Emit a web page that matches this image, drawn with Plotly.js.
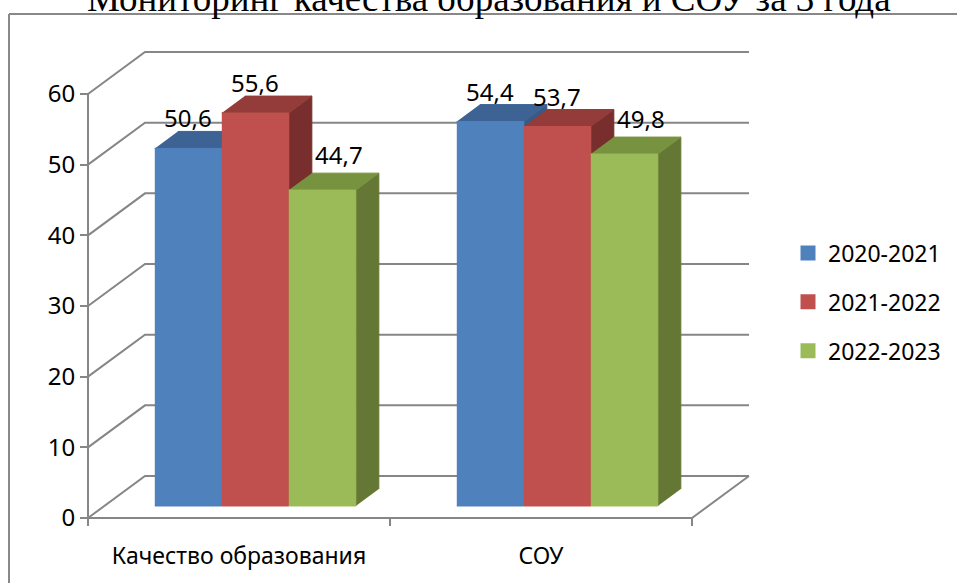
<!DOCTYPE html>
<html>
<head>
<meta charset="utf-8">
<script src="https://cdn.plot.ly/plotly-3.0.1.min.js"></script>
<style>html,body{margin:0;padding:0;background:#fff;}#chart{width:957px;height:583px;}</style>
</head>
<body>
<div id="chart"></div>
<script>
// ---- data ----
const categories = ['Качество образования', 'СОУ'];
const seriesNames = ['2020-2021', '2021-2022', '2022-2023'];
const values2020 = [50.6, 54.4];
const values2021 = [55.6, 53.7];
const values2022 = [44.7, 49.8];
const yTicks = [0, 10, 20, 30, 40, 50, 60];

// ---- styling / geometry ----
const seriesValues = [values2020, values2021, values2022];
const frontColors = ['#4F81BD', '#C0504D', '#9BBB59'];
const topColors = ['#3D6394', '#933C3A', '#78933F'];
const sideColors = ['#385A87', '#782E2C', '#657735'];
const labelShift = [[0, -5], [0, -5], [17, 0]];
const gridColor = '#868686';
const FONT = 'Noto Sans, Open Sans, sans-serif';

const DEPTH_X = 57 / 302;   // wall depth in x units
const DEPTH_Y = 42 / 7.067; // wall depth in y units
const BAR_W = 67 / 302;
const D0 = 0.286, D1 = 0.69;

const traces = [];

// walls & gridlines
const gx = [], gy = [];
yTicks.forEach(v => {
  gx.push(-0.5, -0.5 + DEPTH_X, 1.5 + DEPTH_X, null);
  gy.push(v, v + DEPTH_Y, v + DEPTH_Y, null);
});
gx.push(1.5, 1.5 + DEPTH_X, null);
gy.push(0, DEPTH_Y, null);
traces.push({x: gx, y: gy, mode: 'lines', line: {color: gridColor, width: 2}, hoverinfo: 'skip', showlegend: false});

// axes lines (front)
const tickDown = -8 / 7.067;
const ax = [-0.5, -0.5, null, -0.5, 1.5, null];
const ay = [yTicks[yTicks.length - 1], tickDown, null, 0, 0, null];
[-0.5, 0.5, 1.5].forEach(t => { ax.push(t, t, null); ay.push(0, tickDown, null); });
traces.push({x: ax, y: ay, mode: 'lines', line: {color: gridColor, width: 2}, hoverinfo: 'skip', showlegend: false});

// 3D bars
const annotations = [];
const dx = (D1 - D0) * DEPTH_X;
const b0 = D0 * DEPTH_Y, b1 = D1 * DEPTH_Y;
seriesValues.forEach((vals, k) => {
  const side = {x: [], y: []}, top = {x: [], y: []}, front = {x: [], y: []};
  vals.forEach((v, c) => {
    const xl = c + (k - 1.5) * BAR_W + D0 * DEPTH_X;
    const xr = xl + BAR_W;
    side.x.push(xr, xr, xr + dx, xr + dx, null);
    side.y.push(b0, v + b0, v + b1, b1, null);
    top.x.push(xl, xr, xr + dx, xl + dx, null);
    top.y.push(v + b0, v + b0, v + b1, v + b1, null);
    front.x.push(xl, xr, xr, xl, null);
    front.y.push(b0, b0, v + b0, v + b0, null);
    annotations.push({
      x: (xl + xr) / 2, y: v + b1, xref: 'x', yref: 'y',
      text: String(v).replace('.', ','), showarrow: false,
      xanchor: 'center', yanchor: 'bottom',
      xshift: labelShift[k][0], yshift: labelShift[k][1],
      font: {family: FONT, size: 24, color: '#000'}
    });
  });
  [[side, sideColors[k]], [top, topColors[k]], [front, frontColors[k]]].forEach(([p, col]) => {
    traces.push({x: p.x, y: p.y, mode: 'lines', fill: 'toself', fillcolor: col,
      line: {color: col, width: 1}, hoverinfo: 'skip', showlegend: false});
  });
});

// legend entries
seriesNames.forEach((name, k) => {
  traces.push({x: [null], y: [null], name: name, mode: 'markers', legendgroup: 'g' + k,
    marker: {symbol: 'square', size: 15, color: frontColors[k]}});
});

// title
annotations.push({
  xref: 'paper', yref: 'paper', x: (488.5 - 60) / 710, y: (540 + 1) / 500,
  text: 'Мониторинг качества образования и СОУ за 3 года', showarrow: false,
  xanchor: 'center', yanchor: 'middle',
  font: {family: 'Liberation Serif, Times New Roman, serif', size: 37, color: '#000'}
});

const layout = {
  width: 957, height: 583,
  margin: {l: 60, r: 187, t: 40, b: 43, autoexpand: false},
  paper_bgcolor: '#fff', plot_bgcolor: 'rgba(0,0,0,0)',
  showlegend: true,
  legend: {x: (788 - 60) / 710, y: (540 - 302) / 500, xanchor: 'left', yanchor: 'middle',
    traceorder: 'grouped', tracegroupgap: 16, font: {family: FONT, size: 23, color: '#000'}},
  xaxis: {range: [(60 - 88) / 302 - 0.5, (770 - 88) / 302 - 0.5], showgrid: false, zeroline: false,
    showline: false, tickvals: [0, 1], ticktext: categories, ticks: '', automargin: false,
    tickfont: {family: FONT, size: 23, color: '#000'}, fixedrange: true},
  yaxis: {range: [-22 / 7.067, 478 / 7.067], anchor: 'free', position: (88 - 60) / 710, side: 'left', automargin: false,
    showgrid: false, zeroline: false, showline: false, tickvals: yTicks, ticks: 'outside', ticklen: 8,
    tickwidth: 2, tickcolor: gridColor, tickfont: {family: FONT, size: 24, color: '#000'}, fixedrange: true},
  shapes: [
    {type: 'line', xref: 'paper', yref: 'paper', x0: (9 - 60) / 710, y0: (540 - 14) / 500, x1: 1.4, y1: (540 - 14) / 500, line: {color: '#888', width: 2}},
    {type: 'line', xref: 'paper', yref: 'paper', x0: (9 - 60) / 710, y0: (540 - 14) / 500, x1: (9 - 60) / 710, y1: -0.3, line: {color: '#888', width: 2}}
  ],
  annotations: annotations
};

Plotly.newPlot('chart', traces, layout, {displayModeBar: false, staticPlot: true});
</script>
</body>
</html>
